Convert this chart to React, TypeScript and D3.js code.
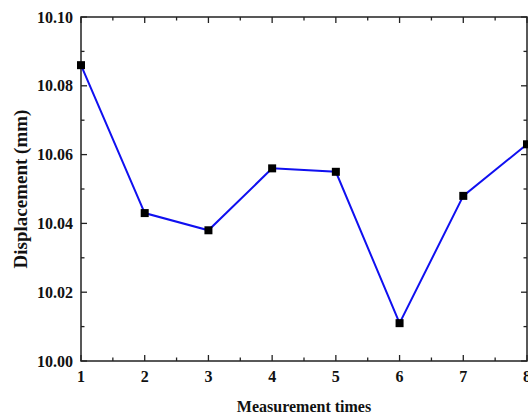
import React from "react";
import * as d3 from "d3";

const times = [1, 2, 3, 4, 5, 6, 7, 8];
const displacement = [10.086, 10.043, 10.038, 10.056, 10.055, 10.011, 10.048, 10.063];
const yMajorTicks = [10.0, 10.02, 10.04, 10.06, 10.08, 10.1];
const yMinorTicks = [10.01, 10.03, 10.05, 10.07, 10.09];
const xMajorTicks = [1, 2, 3, 4, 5, 6, 7, 8];
const xMinorTicks = [1.5, 2.5, 3.5, 4.5, 5.5, 6.5, 7.5];

const W = 528;
const H = 417;
const L = 81;
const R = 527;
const T = 17;
const B = 361;

export default function App() {
  const x = d3.scaleLinear().domain([1, 8]).range([L, R]);
  const y = d3.scaleLinear().domain([10.0, 10.1]).range([B, T]);
  const line = d3
    .line<number>()
    .x((_, i) => x(times[i]))
    .y((d) => y(d));
  const font = "'Liberation Serif', 'Times New Roman', serif";
  const major = 6;
  const minor = 3.5;
  const axisColor = "#222";
  return (
    <svg
      width={W}
      height={H}
      style={{ position: "absolute", left: 0, top: 0, background: "#fff" }}
      fontFamily={font}
      fontWeight="bold"
    >
      <rect x={0} y={0} width={W} height={H} fill="#fff" />
      {/* frame */}
      <rect x={L} y={T} width={R - L} height={B - T} fill="none" stroke={axisColor} strokeWidth={1.5} />
      {/* y ticks */}
      {yMajorTicks.map((t) => (
        <g key={"ym" + t}>
          <line x1={L} x2={L + major} y1={y(t)} y2={y(t)} stroke={axisColor} strokeWidth={1.3} />
          <line x1={R} x2={R - major} y1={y(t)} y2={y(t)} stroke={axisColor} strokeWidth={1.3} />
          <text x={L - 8} y={y(t)} dy="0.35em" textAnchor="end" fontSize={16} fill="#111">
            {t.toFixed(2)}
          </text>
        </g>
      ))}
      {yMinorTicks.map((t) => (
        <g key={"yn" + t}>
          <line x1={L} x2={L + minor} y1={y(t)} y2={y(t)} stroke={axisColor} strokeWidth={1.3} />
          <line x1={R} x2={R - minor} y1={y(t)} y2={y(t)} stroke={axisColor} strokeWidth={1.3} />
        </g>
      ))}
      {/* x ticks */}
      {xMajorTicks.map((t) => (
        <g key={"xm" + t}>
          <line x1={x(t)} x2={x(t)} y1={B} y2={B - major} stroke={axisColor} strokeWidth={1.3} />
          <line x1={x(t)} x2={x(t)} y1={T} y2={T + major} stroke={axisColor} strokeWidth={1.3} />
          <text x={x(t)} y={382} textAnchor="middle" fontSize={16} fill="#111">
            {t}
          </text>
        </g>
      ))}
      {xMinorTicks.map((t) => (
        <g key={"xn" + t}>
          <line x1={x(t)} x2={x(t)} y1={B} y2={B - minor} stroke={axisColor} strokeWidth={1.3} />
          <line x1={x(t)} x2={x(t)} y1={T} y2={T + minor} stroke={axisColor} strokeWidth={1.3} />
        </g>
      ))}
      {/* data */}
      <path d={line(displacement) || ""} fill="none" stroke="#1010f0" strokeWidth={2} />
      {displacement.map((v, i) => (
        <rect key={i} x={x(times[i]) - 4} y={y(v) - 4} width={8} height={8} fill="#000" />
      ))}
      {/* titles */}
      <text x={(L + R) / 2} y={412} textAnchor="middle" fontSize={16} fill="#111">
        Measurement times
      </text>
      <text
        transform={`translate(27, ${(T + B) / 2}) rotate(-90)`}
        textAnchor="middle"
        fontSize={19}
        fill="#111"
      >
        Displacement (mm)
      </text>
    </svg>
  );
}
